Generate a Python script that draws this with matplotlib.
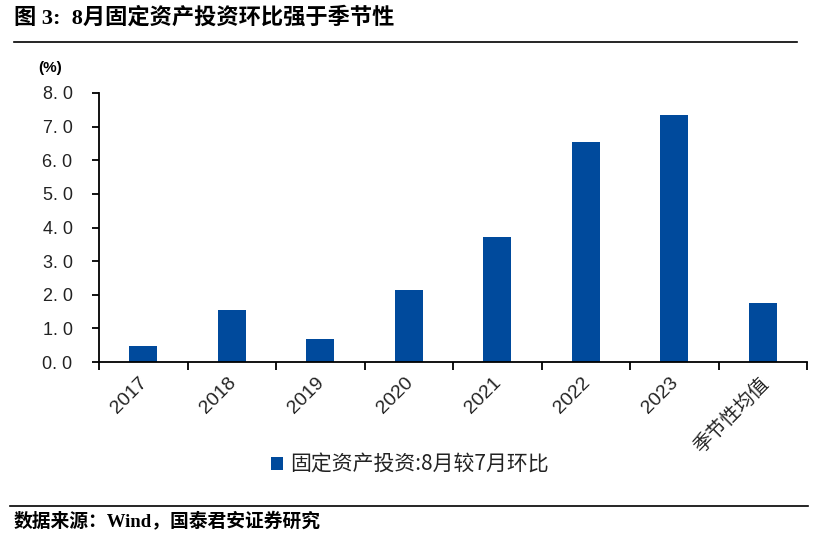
import numpy as np
import matplotlib
matplotlib.use("Agg")
import matplotlib.pyplot as plt

plt.rcParams['font.family'] = ['Noto Sans CJK SC', 'DejaVu Sans']

# data
categories = ['2017', '2018', '2019', '2020', '2021', '2022', '2023', '季节性均值']
values = [0.48, 1.55, 0.68, 2.14, 3.72, 6.55, 7.35, 1.76]
series_name = '固定资产投资:8月较7月环比'
yticks = [0.0, 1.0, 2.0, 3.0, 4.0, 5.0, 6.0, 7.0, 8.0]

bar_color = '#004A9C'

fig = plt.figure(figsize=(8.23, 5.4), dpi=100)
ax = fig.add_axes([0.1203, 0.3296, 0.8603, 0.4982])

x = np.arange(len(categories))
bars = ax.bar(x, values, width=0.32, color=bar_color, label=series_name)

ax.set_xlim(-0.5, len(categories) - 0.5)
ax.set_ylim(0, 8)
ax.set_yticks(yticks)
ax.set_yticklabels([('%.1f' % v).replace('.', '. ') for v in yticks],
                   fontsize=13, family=['Liberation Sans'], color='#222222')

# category ticks sit between bars
ax.set_xticks(np.arange(-0.5, len(categories), 1.0))
ax.set_xticklabels([])
ax.tick_params(axis='x', direction='out', length=6, width=1.3)
ax.tick_params(axis='y', direction='out', length=5, width=1.3, pad=14)
for i, c in enumerate(categories):
    fam = ['Liberation Sans'] if c.isdigit() else ['Noto Sans CJK SC']
    ax.text(i - 0.05, -0.35, c, rotation=45, ha='right', va='top',
            fontsize=14, family=fam, rotation_mode='anchor', color='#222222')

for s in ['top', 'right']:
    ax.spines[s].set_visible(False)
ax.spines['left'].set_linewidth(1.3)
ax.spines['bottom'].set_linewidth(1.3)

fig.text(0.046, 0.874, '(%)', ha='left', va='center',
         fontsize=11, fontweight='bold', family=['Liberation Sans'])

leg = fig.legend(handles=[bars], labels=[series_name], loc='center',
                 bbox_to_anchor=(0.498, 0.139), frameon=False, fontsize=15,
                 handlelength=0.55, handleheight=0.55, handletextpad=0.35)
for t in leg.get_texts():
    t.set_color('#222222')

# title and source with rules
fig.text(0.017, 0.966, '图 3:  8月固定资产投资环比强于季节性', fontsize=16,
         fontweight='bold', ha='left', va='center',
         family=['Liberation Serif', 'Noto Sans CJK SC'])
fig.add_artist(plt.Line2D([0.017, 0.969], [0.922, 0.922], color='black', lw=1.2))
fig.add_artist(plt.Line2D([0.012, 0.982], [0.063, 0.063], color='black', lw=1.2))
fig.text(0.017, 0.033, '数据来源：Wind，国泰君安证券研究', fontsize=13.5,
         fontweight='bold', ha='left', va='center',
         family=['Liberation Serif', 'Noto Sans CJK SC'])

fig.savefig('out.png', dpi=100)
